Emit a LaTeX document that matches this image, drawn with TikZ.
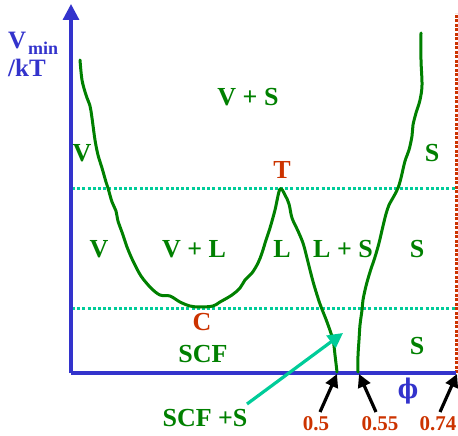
\documentclass[tikz,border=0pt]{standalone}
\usepackage{fontspec}
\setmainfont{Liberation Serif}
\newfontfamily\phifont{DejaVu Serif}
\usetikzlibrary{arrows.meta}
\definecolor{pgreen}{RGB}{0,128,0}
\definecolor{pred}{RGB}{204,51,0}
\definecolor{pblue}{RGB}{51,51,204}
\definecolor{pteal}{RGB}{0,204,153}
\tikzset{
  lbl/.style={text=pgreen, font=\fontsize{26}{26}\selectfont\bfseries, inner sep=0pt},
  redlbl/.style={text=pred, font=\fontsize{26}{26}\selectfont\bfseries, inner sep=0pt},
  numlbl/.style={text=pred, font=\fontsize{21}{21}\selectfont\bfseries, inner sep=0pt},
  axislbl/.style={text=pblue, font=\fontsize{25}{25}\selectfont\bfseries, inner sep=0pt, anchor=base west},
  axisline/.style={draw=pblue, line width=3.2pt},
  boundary/.style={draw=pgreen, line width=3pt, line join=round, line cap=round},
  guide/.style={draw=pteal, line width=3pt, dash pattern=on 3pt off 2.2pt},
  limitline/.style={draw=pred, line width=3pt, dash pattern=on 2.8pt off 1.7pt},
  ptr/.style={draw=black, line width=3.2pt, -{Triangle[length=13pt,width=13pt]}},
  tealptr/.style={draw=pteal, line width=3.2pt, -{Triangle[length=15pt,width=15pt]}}
}
\begin{document}
\begin{tikzpicture}[x=1pt,y=-1pt]
\useasboundingbox (0,0) rectangle (458,436);
% guides
\coordinate (g1a) at (72,188); \coordinate (g1b) at (455,188);
\coordinate (g2a) at (72,308); \coordinate (g2b) at (455,308);
\draw[guide] (g1a) -- (g1b);
\draw[guide] (g2a) -- (g2b);
\coordinate (lim0) at (456,373); \coordinate (lim1) at (456,13);
\draw[limitline] (lim0) -- (lim1);
% axes
\coordinate (O) at (71,373);
\coordinate (ytop) at (71,4);
\coordinate (xend) at (456,373);
\draw[axisline, -{Triangle[length=16pt,width=16pt]}] (O) -- (ytop);
\draw[axisline] (O) -- (xend);
% left boundary (V / L / SCF)
\draw[boundary] plot[smooth, tension=0.55] coordinates {
 (80,60) (82,80) (86,95) (90,106) (92,118) (95,140) (98,155) (102,168)
 (106,182) (108,188) (112,202) (116,211) (118,221) (123,235) (127,247)
 (133,261) (141,276) (151,288) (160,295) (170,296) (180,302) (190,306)
 (200,307) (213,306) (220,302) (232,295) (240,288) (245,280) (252,273)
 (258,263) (262,253) (266,240) (270,228) (275,210) (280,189) (285,195)
 (289,204) (292,218) (298,231) (303,243) (306,254) (310,270) (314,285)
 (320,304) (327,322) (333,340) (335,355) (337,372)};
% right boundary (S)
\draw[boundary] plot[smooth, tension=0.55] coordinates {
 (421,33) (421,60) (422,85) (420,100) (416,113) (413,125) (412,136)
 (409,150) (405,161) (401,178) (398,188) (394,196) (389,205) (386,214)
 (383,226) (379,243) (375,257) (370,272) (366,286) (363,300) (362,310)
 (360,325) (359,340) (358,356) (358,372)};
% axis label
\node[axislbl] (vmin) at (8,49) {V};
\node[text=pblue, font=\fontsize{18}{18}\selectfont\bfseries, inner sep=0pt, anchor=base west, text depth=0pt] (sub) at (28,55) {min};
\node[axislbl, text height=17pt] (kt) at (8,77) {/kT};
% region labels
\node[lbl] (vs) at (248,97) {V + S};
\node[lbl] (v1) at (82,153) {V};
\node[lbl] (s1) at (432,153) {S};
\node[redlbl] (T) at (282,170) {T};
\node[lbl] (v2) at (99,249) {V};
\node[lbl] (vl) at (194,249) {V + L};
\node[lbl] (l) at (282,249) {L};
\node[lbl] (ls) at (343,249) {L + S};
\node[lbl] (s2) at (417,249) {S};
\node[redlbl] (C) at (202,322) {C};
\node[lbl] (scf) at (203,354) {SCF};
\node[lbl] (s3) at (417,346) {S};
\node[lbl] (scfs) at (205,418) {SCF +S};
\node[text=pblue, inner sep=0pt, xscale=0.8, font=\fontsize{27}{27}\phifont\bfseries] (phi) at (408,391) {ϕ};
\node[numlbl] (n1) at (316,424) {0.5};
\node[numlbl] (n2) at (380,424) {0.55};
\node[numlbl] (n3) at (438,424) {0.74};
% pointers
\coordinate (t1) at (320,412); \coordinate (h1) at (337,374);
\coordinate (t2) at (376,412); \coordinate (h2) at (359,374);
\coordinate (t3) at (440,412); \coordinate (h3) at (457,374);
\draw[ptr] (t1) -- (h1);
\draw[ptr] (t2) -- (h2);
\draw[ptr] (t3) -- (h3);
\coordinate (tt) at (247,404); \coordinate (th) at (343,333);
\draw[tealptr] (tt) -- (th);
\end{tikzpicture}
\end{document}
